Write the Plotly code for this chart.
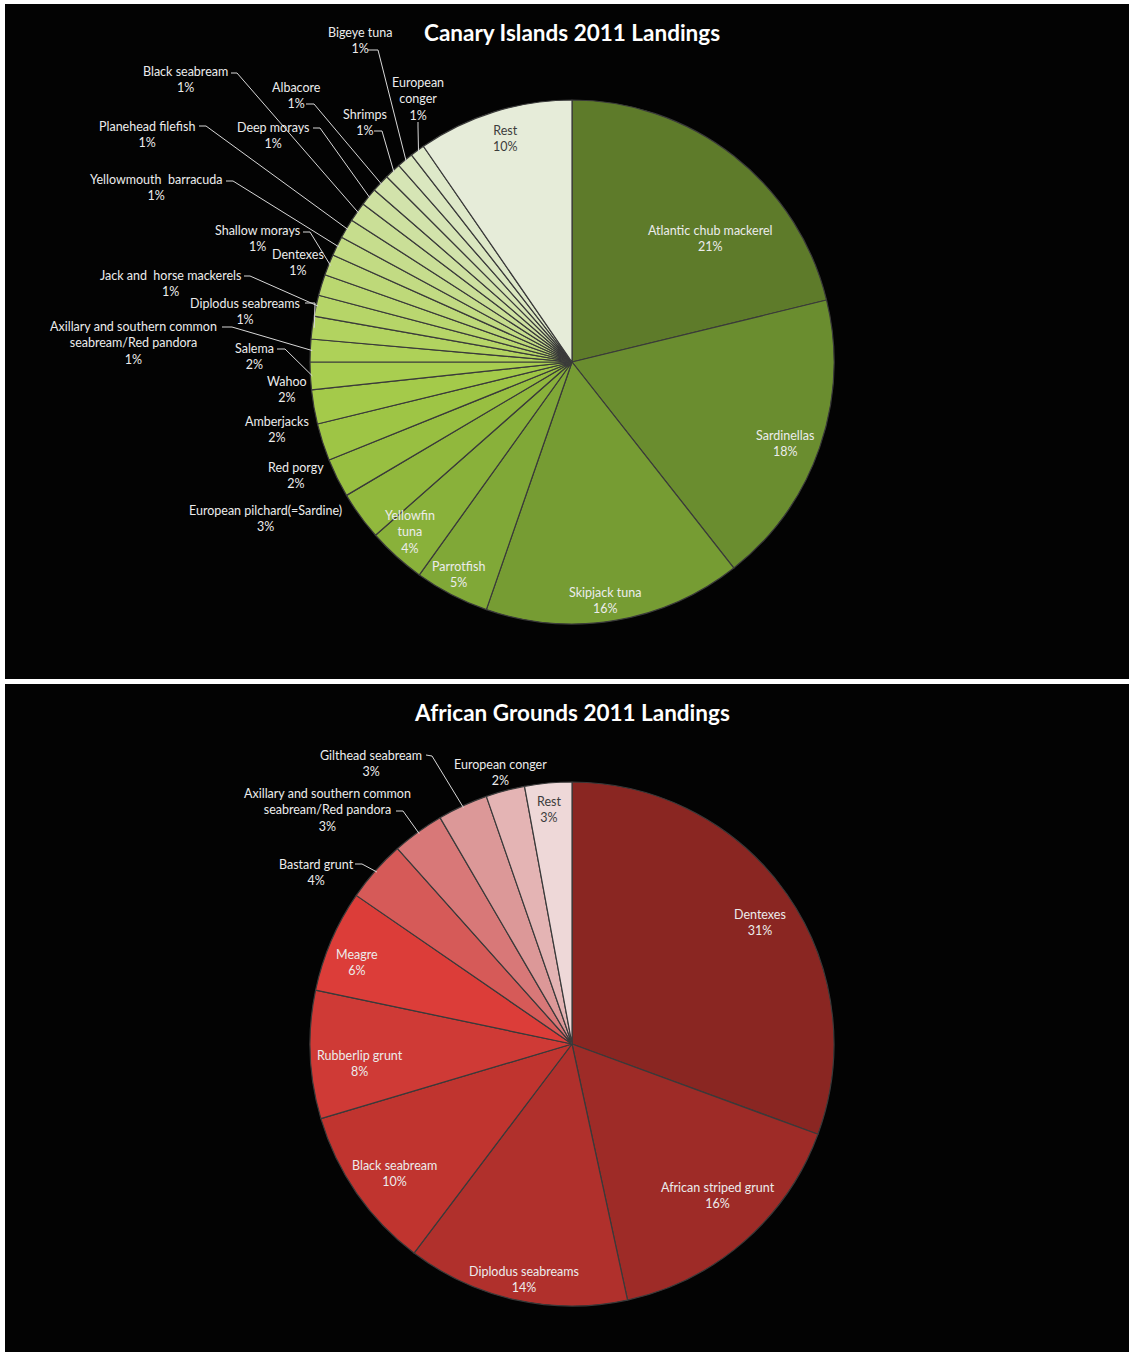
import math
import plotly.graph_objects as go

W, H = 1129, 1352

# ---------------- data ----------------
canary_labels = [
    "Atlantic chub mackerel", "Sardinellas", "Skipjack tuna", "Parrotfish",
    "Yellowfin tuna", "European pilchard(=Sardine)", "Red porgy", "Amberjacks",
    "Wahoo", "Salema", "Axillary and southern common seabream/Red pandora",
    "Diplodus seabreams", "Jack and  horse mackerels", "Dentexes",
    "Shallow morays", "Yellowmouth  barracuda", "Planehead filefish",
    "Black seabream", "Deep morays", "Albacore", "Shrimps", "Bigeye tuna",
    "European conger", "Rest",
]
canary_values = [21.2, 18.2, 15.9, 4.6, 3.6, 3.0, 2.4, 2.3, 2.1, 1.7, 1.4, 1.4,
                 1.3, 1.3, 1.3, 1.2, 1.2, 1.2, 1.1, 1.1, 1.0, 1.0, 0.9, 9.6]

african_labels = [
    "Dentexes", "African striped grunt", "Diplodus seabreams", "Black seabream",
    "Rubberlip grunt", "Meagre", "Bastard grunt",
    "Axillary and southern common seabream/Red pandora", "Gilthead seabream",
    "European conger", "Rest",
]
african_values = [30.6, 16.0, 13.7, 10.1, 7.9, 6.3, 3.8, 3.2, 3.1, 2.4, 2.9]

# ---------------- styles / layout ----------------
canary_colors = [
    "#5e7b2a", "#6a8d2f", "#769c33", "#80a837", "#89b13a", "#91b83d", "#98bf41",
    "#9ec545", "#a4ca4a", "#a9ce50", "#aed158", "#b2d360", "#b6d568", "#bad770",
    "#bed979", "#c2db83", "#c6dd8d", "#cadf97", "#cee1a1", "#d2e3ab", "#d6e5b5",
    "#dae7bf", "#dee9c9", "#e6ecd9",
]
african_colors = [
    "#8a2622", "#9e2b27", "#b0302c", "#c0342f", "#cf3a36", "#dc3d39",
    "#d65a58", "#d87878", "#dc9898", "#e4b4b4", "#eed8d8",
]

# display text for each label (line breaks as in the reference)
canary_text = {
    "European conger": "European<br>conger",
    "Yellowfin tuna": "Yellowfin<br>tuna",
    "Axillary and southern common seabream/Red pandora":
        "Axillary and southern common<br>seabream/Red pandora",
}
african_text = {
    "Axillary and southern common seabream/Red pandora":
        "Axillary and southern common<br>seabream/Red pandora",
}

# label centre positions (px) and optional leader start/elbow (px)
canary_pos = {
    "Bigeye tuna": (360, 41, (368, 50, 378, 50)),
    "Black seabream": (185, 80, (231, 73, 237, 73)),
    "Albacore": (296, 95, (306, 104, 314, 104)),
    "European conger": (418, 99, (418, 122, 418, 127)),
    "Shrimps": (365, 123, (374, 131, 382, 131)),
    "Planehead filefish": (147, 134, (199, 126, 206, 126)),
    "Deep morays": (273, 136, (313, 128, 320, 128)),
    "Yellowmouth  barracuda": (156, 188, (226, 181, 233, 181)),
    "Shallow morays": (257, 239, (303, 232, 310, 232)),
    "Dentexes": (298, 262, None),
    "Jack and  horse mackerels": (170, 284, (244, 276, 250, 276)),
    "Diplodus seabreams": (245, 311, (305, 303, 315, 303)),
    "Axillary and southern common seabream/Red pandora": (133, 343, (222, 327, 232, 327)),
    "Salema": (254, 356, (277, 349, 285, 349)),
    "Wahoo": (287, 389, None),
    "Amberjacks": (277, 429, None),
    "Red porgy": (296, 475, None),
    "European pilchard(=Sardine)": (265, 519, None),
    "Yellowfin tuna": (410, 532, None),
    "Parrotfish": (458, 574, None),
    "Skipjack tuna": (605, 600, None),
    "Sardinellas": (785, 443, None),
    "Atlantic chub mackerel": (710, 239, None),
    "Rest": (506, 138, None),
}
african_pos = {
    "Dentexes": (760, 922, None),
    "African striped grunt": (718, 1195, None),
    "Diplodus seabreams": (524, 1279, None),
    "Black seabream": (394, 1173, None),
    "Rubberlip grunt": (360, 1063, None),
    "Meagre": (357, 963, None),
    "Bastard grunt": (316, 872, (355, 864, 362, 864)),
    "Axillary and southern common seabream/Red pandora": (327, 810, (396, 811, 403, 811)),
    "Gilthead seabream": (371, 763, (426, 755, 432, 756)),
    "European conger": (500, 773, None),
    "Rest": (549, 809, None),
}

CX, R = 572, 262
CY_TOP, CY_BOT = 362, 1044
FONT = "Lato, Calibri, Carlito, sans-serif"
LABEL_SIZE = 12.5
TITLE_SIZE = 22.5


def px2paper(x, y):
    return x / W, 1 - y / H


fig = go.Figure()

# panels
for y0, y1 in [(4, 679), (684, 1352)]:
    fig.add_shape(type="rect", xref="paper", yref="paper", layer="below",
                  x0=5 / W, x1=1, y0=1 - y1 / H, y1=1 - y0 / H,
                  fillcolor="#030303", line=dict(width=0))

annotations = []
shapes = []


def add_pie(labels, values, colors, cy, texts, pos, dark_labels):
    fig.add_trace(go.Pie(
        labels=labels, values=values, sort=False, direction="clockwise",
        rotation=0, textinfo="none", showlegend=False,
        marker=dict(colors=colors, line=dict(color="#3a3a3a", width=1.2)),
        domain=dict(x=[(CX - R) / W, (CX + R) / W],
                    y=[1 - (cy + R) / H, 1 - (cy - R) / H]),
        hovertemplate="%{label}: %{percent}<extra></extra>",
    ))
    total = sum(values)
    cum = 0.0
    for lab, v in zip(labels, values):
        mid = 2 * math.pi * (cum + v / 2) / total
        cum += v
        pct = round(100 * v / total)
        x, y, lead = pos[lab]
        txt = texts.get(lab, lab) + "<br>" + f"{pct}%"
        ax, ay = px2paper(x, y)
        col = "#3c3c3c" if lab in dark_labels else "#ececec"
        annotations.append(dict(
            x=ax, y=ay, xref="paper", yref="paper", text=txt, showarrow=False,
            xanchor="center", yanchor="middle", align="center",
            font=dict(family=FONT, size=LABEL_SIZE, color=col)))
        if lead:
            ex = CX + (R - 2) * math.sin(mid)
            ey = cy - (R - 2) * math.cos(mid)
            p0 = px2paper(lead[0], lead[1])
            p1 = px2paper(lead[2], lead[3])
            p2 = px2paper(ex, ey)
            shapes.append(dict(
                type="path", xref="paper", yref="paper",
                path=f"M {p0[0]} {p0[1]} L {p1[0]} {p1[1]} L {p2[0]} {p2[1]}",
                line=dict(color="#d8d8d8", width=1)))


add_pie(canary_labels, canary_values, canary_colors, CY_TOP, canary_text,
        canary_pos, {"Rest"})
add_pie(african_labels, african_values, african_colors, CY_BOT, african_text,
        african_pos, {"Rest"})

for title, ty in [("Canary Islands 2011 Landings", 32),
                  ("African Grounds 2011 Landings", 713)]:
    tx, tyy = px2paper(572, ty)
    annotations.append(dict(
        x=tx, y=tyy, xref="paper", yref="paper", text=f"<b>{title}</b>",
        showarrow=False, xanchor="center", yanchor="middle",
        font=dict(family=FONT, size=TITLE_SIZE, color="white")))

for s in shapes:
    fig.add_shape(**s)

fig.update_layout(
    width=W, height=H, margin=dict(l=0, r=0, t=0, b=0),
    paper_bgcolor="white", plot_bgcolor="white",
    annotations=annotations,
)

fig.write_html(
    "out.html",
    config={"displayModeBar": False},
    post_script="document.body.style.margin='0';document.body.style.padding='0';",
)
